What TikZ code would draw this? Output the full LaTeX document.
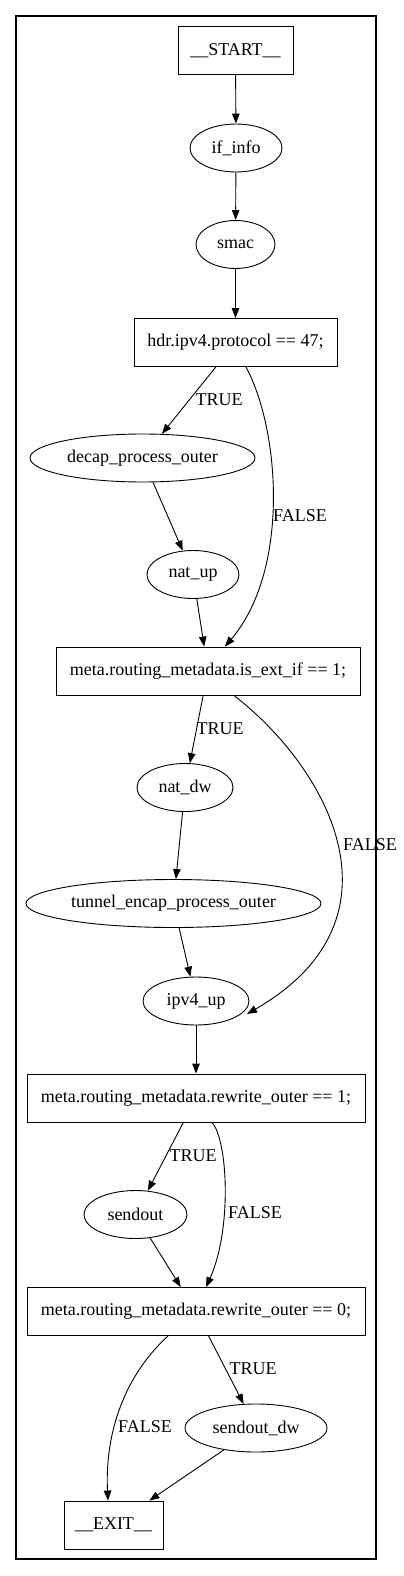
\documentclass[tikz,border=0pt]{standalone}
\usepackage{fontspec}
\setmainfont{Liberation Serif}
\usetikzlibrary{shapes.geometric,arrows.meta}

\begin{document}
\begin{tikzpicture}[x=1pt, y=-1pt, font=\fontsize{18}{21}\selectfont, line width=0.9pt,
    blk/.style={draw, rectangle, minimum height=48pt},
    act/.style={draw, ellipse, minimum height=48pt, inner sep=0pt},
    lbl/.style={inner sep=0pt},
    >={Triangle[length=10pt,width=7.5pt]}]
            \useasboundingbox (0,0) rectangle (404,1576);
            \draw[line width=2.2pt] (16,16) rectangle (376,1559);
            % nodes
            \node[blk, minimum width=115pt] (start) at (235.5,50.5) {\_\_START\_\_};
            \node[act, minimum width=92pt] (ifinfo) at (236,148) {if\_info};
            \node[act, minimum width=79pt] (smac) at (235.5,244.5) {smac};
            \node[blk, minimum width=203pt] (proto) at (235.5,342.5) {hdr.ipv4.protocol == 47;};
            \node[act, minimum width=225pt] (decap) at (142.5,458) {decap\_process\_outer};
            \node[act, minimum width=92pt] (natup) at (193,574.5) {nat\_up};
            \node[blk, minimum width=304pt] (extif) at (208,671) {meta.routing\_metadata.is\_ext\_if == 1;};
            \node[act, minimum width=96pt] (natdw) at (185,787.5) {nat\_dw};
            \node[act, minimum width=295pt] (tunnel) at (173.5,903.5) {tunnel\_encap\_process\_outer};
            \node[act, minimum width=106pt] (ipvup) at (196,1001) {ipv4\_up};
            \node[blk, minimum width=338pt] (rwone) at (196,1098) {meta.routing\_metadata.rewrite\_outer == 1;};
            \node[act, minimum width=103pt] (sendout) at (135.5,1214.5) {sendout};
            \node[blk, minimum width=338pt] (rwzero) at (196,1311.5) {meta.routing\_metadata.rewrite\_outer == 0;};
            \node[act, minimum width=142pt] (senddw) at (256,1428) {sendout\_dw};
            \node[blk, minimum width=99pt] (exit) at (113.5,1525) {\_\_EXIT\_\_};
            % edges
            \draw[->] (start) -- (ifinfo);
            \draw[->] (ifinfo) -- (smac);
            \draw[->] (smac) -- (proto);
            \draw[->] (proto) -- (decap);
            \draw[->] ([xshift=10.5pt]proto.south) .. controls (280,430) and (290,570) .. ([xshift=17pt]extif.north);
            \draw[->] (decap) -- (natup);
            \draw[->] (natup) -- (extif);
            \draw[->] (extif) -- (natdw);
            \draw[->] ([xshift=26pt]extif.south) .. controls (330,770) and (410,920) .. ([xshift=51pt, yshift=-13pt]ipvup.center);
            \draw[->] (natdw) -- (tunnel);
            \draw[->] (tunnel) -- (ipvup);
            \draw[->] (ipvup) -- (rwone);
            \draw[->] (rwone) -- (sendout);
            \draw[->] ([xshift=16pt]rwone.south) .. controls (228,1140) and (232,1230) .. ([xshift=10pt]rwzero.north);
            \draw[->] (sendout) -- (rwzero);
            \draw[->] (rwzero) -- (senddw);
            \draw[->] ([xshift=-28pt]rwzero.south) .. controls (120,1380) and (105,1440) .. ([xshift=-5.5pt]exit.north);
            \draw[->] (senddw) -- (exit);
            % labels
            \node[lbl] (lt1) at (219,400) {TRUE};
            \node[lbl] (lf1) at (300,516) {FALSE};
            \node[lbl] (lt2) at (220,729) {TRUE};
            \node[lbl] (lf2) at (370,845) {FALSE};
            \node[lbl] (lt3) at (193,1156) {TRUE};
            \node[lbl] (lf3) at (255,1213) {FALSE};
            \node[lbl] (lt4) at (253,1369) {TRUE};
            \node[lbl] (lf4) at (145,1427) {FALSE};
        \end{tikzpicture}
\end{document}
